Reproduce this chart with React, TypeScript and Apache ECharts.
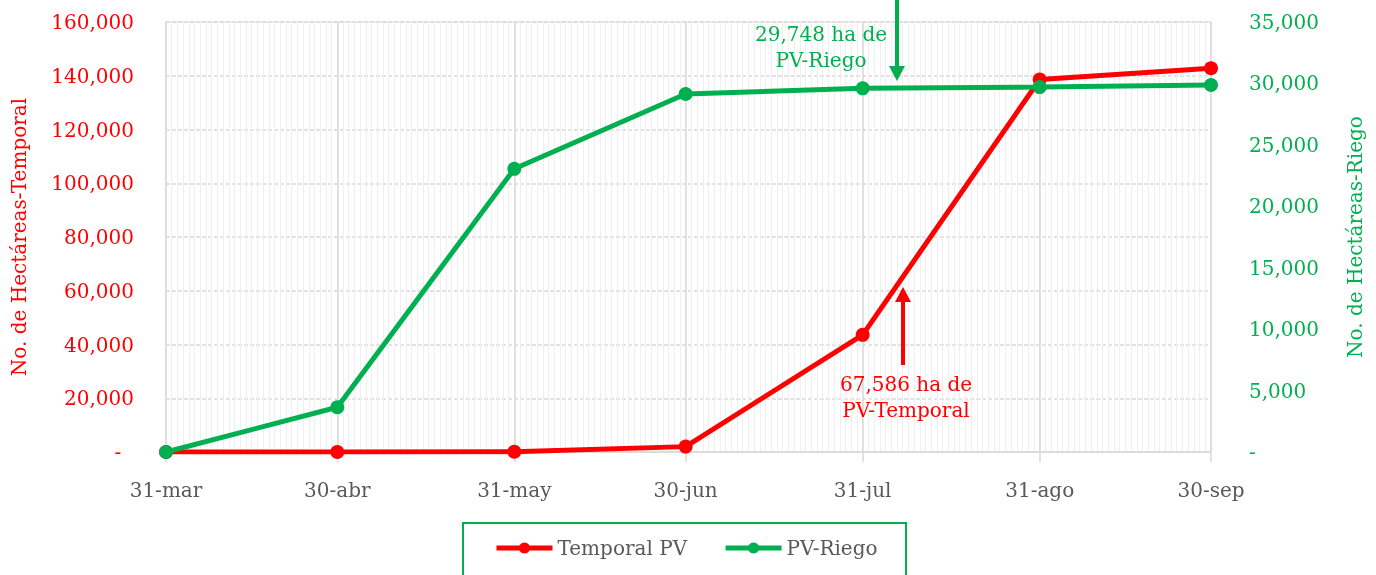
import React, { useEffect, useRef } from 'react';
import * as echarts from 'echarts';

// ---- data ----
const monthLabels = ['31-mar', '30-abr', '31-may', '30-jun', '31-jul', '31-ago', '30-sep'];
const monthDayOffsets = [0, 30, 61, 91, 122, 153, 183];
const totalDays = 184;
const temporalPV = [0, 0, 100, 2000, 43600, 138600, 142800];
const riegoPV = [0, 3640, 23050, 29140, 29600, 29700, 29870];
const leftAxis = { min: 0, max: 160000, interval: 20000 };
const rightAxis = { min: 0, max: 35000, interval: 5000 };
const seriesNames = ['Temporal PV', 'PV-Riego'];
const leftTitle = 'No. de Hectáreas-Temporal';
const rightTitle = 'No. de Hectáreas-Riego';
const riegoNote = '29,748 ha de\nPV-Riego';
const temporalNote = '67,586 ha de\nPV-Temporal';

const RED = '#FF0000';
const GREEN = '#00B050';
const GRAY = '#595959';
const GRID = '#d9d9d9';
const FONT = '"DejaVu Serif", serif';

const fmt = (v: number, zero: string) => (v === 0 ? zero : v.toLocaleString('en-US'));

export default function App() {
  const ref = useRef<HTMLDivElement>(null);
  useEffect(() => {
    if (!ref.current) return;
    const chart = echarts.init(ref.current, undefined, { renderer: 'svg' });
    const days = Array.from({ length: totalDays }, (_, i) => String(i));
    const isMonthEnd = (idx: number) => monthDayOffsets.includes(idx);
    chart.setOption({
      animation: false,
      textStyle: { fontFamily: FONT },
      grid: { left: 166, right: 165, top: 22, bottom: 123, show: true, borderColor: GRID, borderWidth: 1 },
      xAxis: [
        {
          type: 'category',
          data: days,
          boundaryGap: false,
          position: 'bottom',
          axisLine: { show: true, lineStyle: { color: GRID, width: 1.5 } },
          axisTick: { show: true, length: 10, interval: (i: number) => isMonthEnd(i), lineStyle: { color: GRID, width: 1.5 } },
          axisLabel: {
            interval: (i: number) => isMonthEnd(i),
            formatter: (_v: string, i: number) => monthLabels[monthDayOffsets.indexOf(i)] ?? '',
            color: GRAY,
            fontSize: 20,
            fontFamily: FONT,
            margin: 28,
          },
          splitLine: { show: true, interval: (i: number) => isMonthEnd(i), lineStyle: { color: GRID, width: 1.5 } },
          z: 2,
        },
        {
          type: 'category',
          data: days,
          boundaryGap: false,
          position: 'bottom',
          axisLine: { show: false },
          axisTick: { show: false },
          axisLabel: { show: false },
          splitLine: { show: true, interval: 0, lineStyle: { color: '#efefef', width: 1 } },
          z: 1,
        },
      ],
      yAxis: [
        {
          type: 'value',
          ...leftAxis,
          position: 'left',
          name: leftTitle,
          nameLocation: 'middle',
          nameGap: 137,
          nameTextStyle: { color: RED, fontSize: 20, fontFamily: FONT },
          axisLine: { show: false },
          axisTick: { show: false },
          axisLabel: { color: RED, fontSize: 20, fontFamily: FONT, margin: 32, formatter: (v: number) => fmt(v, '-  ') },
          splitLine: { show: true, lineStyle: { color: GRID, width: 1.5, type: [4, 2] } },
        },
        {
          type: 'value',
          ...rightAxis,
          position: 'right',
          name: rightTitle,
          nameLocation: 'middle',
          nameGap: 134,
          nameTextStyle: { color: GREEN, fontSize: 20, fontFamily: FONT },
          axisLine: { show: false },
          axisTick: { show: false },
          axisLabel: { color: GREEN, fontSize: 20, fontFamily: FONT, margin: 38, formatter: (v: number) => fmt(v, '-') },
          splitLine: { show: false },
        },
      ],
      legend: {
        left: 494,
        top: 538,
        padding: 0,
        itemWidth: 56,
        itemHeight: 14,
        itemGap: 36,
        lineStyle: { width: 5 },
        textStyle: { color: GRAY, fontSize: 20, fontFamily: FONT },
        data: seriesNames,
      },
      series: [
        {
          name: seriesNames[0],
          type: 'line',
          xAxisIndex: 0,
          yAxisIndex: 0,
          data: monthDayOffsets.map((d, i) => [d, temporalPV[i]]),
          symbol: 'circle',
          symbolSize: 14,
          lineStyle: { width: 5, color: RED },
          itemStyle: { color: RED },
          z: 3,
        },
        {
          name: seriesNames[1],
          type: 'line',
          xAxisIndex: 0,
          yAxisIndex: 1,
          data: monthDayOffsets.map((d, i) => [d, riegoPV[i]]),
          symbol: 'circle',
          symbolSize: 14,
          lineStyle: { width: 5, color: GREEN },
          itemStyle: { color: GREEN },
          z: 4,
        },
      ],
      graphic: [
        { type: 'rect', shape: { x: 463, y: 523, width: 443, height: 70 }, style: { fill: 'none', stroke: GREEN, lineWidth: 2 }, z: 10 },
        // green arrow
        { type: 'line', shape: { x1: 897, y1: 0, x2: 897, y2: 70 }, style: { stroke: GREEN, lineWidth: 4 }, z: 10 },
        { type: 'polygon', shape: { points: [[889, 66], [905, 66], [897, 81]] }, style: { fill: GREEN }, z: 10 },
        {
          type: 'text', x: 821, y: 47, z: 10,
          style: { text: riegoNote, fill: GREEN, font: '20px ' + FONT, align: 'center', verticalAlign: 'middle', lineHeight: 26 },
        },
        // red arrow
        { type: 'line', shape: { x1: 903, y1: 365, x2: 903, y2: 298 }, style: { stroke: RED, lineWidth: 4 }, z: 10 },
        { type: 'polygon', shape: { points: [[895, 302], [911, 302], [903, 287]] }, style: { fill: RED }, z: 10 },
        {
          type: 'text', x: 906, y: 397, z: 10,
          style: { text: temporalNote, fill: RED, font: '20px ' + FONT, align: 'center', verticalAlign: 'middle', lineHeight: 26 },
        },
      ],
    });
    return () => chart.dispose();
  }, []);
  return <div ref={ref} style={{ position: 'fixed', left: 0, top: 0, width: 1376, height: 575 }} />;
}
